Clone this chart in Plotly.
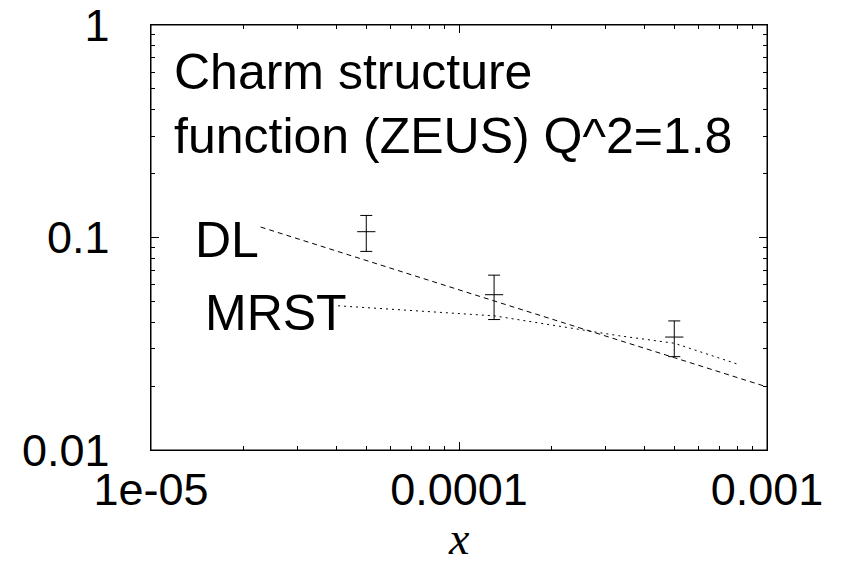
import plotly.graph_objects as go

# Data
data_x = [5.0e-5, 1.30e-4, 5.0e-4]
data_y = [0.1065, 0.0538, 0.0340]
data_err = [0.0205, 0.0127, 0.0065]

dl_x = [2.27e-5, 5.0e-5, 1.30e-4, 5.0e-4, 1.0e-3]
dl_y = [0.112, 0.0782, 0.0503, 0.0272, 0.0198]

mrst_x = [4.05e-5, 1.30e-4, 3.3e-4, 5.0e-4, 8.0e-4]
mrst_y = [0.0477, 0.0428, 0.0345, 0.0318, 0.0254]

x_tickvals = [1e-5, 1e-4, 1e-3]
x_ticktext = ["1e-05", "0.0001", "0.001"]
y_tickvals = [0.01, 0.1, 1]
y_ticktext = ["0.01", "0.1", "1"]
x_minor = [m * 10.0 ** e for e in (-5, -4) for m in range(2, 10)]
y_minor = [m * 10.0 ** e for e in (-2, -1) for m in range(2, 10)]

# page has an 8px body margin, so figure is 838x556 offset by 8px
OFF = 8
W, H = 846 - OFF, 564 - OFF
L, T = 151 - OFF, 25 - OFF
R = W - (767 - OFF)
B = H - (450 - OFF)
PW, PH = W - L - R, H - T - B

def px(x):
    return (x - OFF - L) / PW

def py(y):
    return (H - B - (y - OFF)) / PH

fig = go.Figure()
fig.add_trace(go.Scatter(x=dl_x, y=dl_y, mode="lines",
                         line=dict(color="black", width=1, dash="5px,4px"),
                         showlegend=False, hoverinfo="skip"))
fig.add_trace(go.Scatter(x=mrst_x, y=mrst_y, mode="lines",
                         line=dict(color="black", width=1, dash="2px,4px"),
                         showlegend=False, hoverinfo="skip"))
fig.add_trace(go.Scatter(x=data_x, y=data_y, mode="markers",
                         marker=dict(symbol="line-ew", size=13, color="black",
                                     line=dict(color="black", width=1)),
                         error_y=dict(type="data", array=data_err, visible=True,
                                      color="black", thickness=1, width=6),
                         showlegend=False))

font_main = "Liberation Sans, Arial, sans-serif"
ann = dict(xref="paper", yref="paper", showarrow=False, xanchor="left",
           yanchor="middle", font=dict(family=font_main, size=50, color="black"))
fig.add_annotation(text="Charm structure", x=px(172), y=py(72), **ann)
fig.add_annotation(text="function (ZEUS) Q^2=1.8", x=px(172), y=py(136), **ann)
fig.add_annotation(text="DL", x=px(193), y=py(240), **ann)
fig.add_annotation(text="MRST", x=px(203), y=py(313), **ann)
fig.add_annotation(text="x", x=px(459), y=py(538), xanchor="center", yanchor="middle",
                   xref="paper", yref="paper", showarrow=False,
                   font=dict(family="Liberation Serif, Times New Roman, serif",
                             size=46, color="black", style="italic"))

# plot frame
fig.add_shape(type="rect", xref="paper", yref="paper", x0=0, x1=1, y0=0, y1=1,
              line=dict(color="black", width=1), fillcolor="rgba(0,0,0,0)")

tick_common = dict(type="log", showgrid=False, zeroline=False,
                   showline=True, linecolor="black", linewidth=1, mirror="allticks",
                   ticks="inside", ticklen=8, tickcolor="black", tickwidth=1,
                   ticklabeloverflow="allow",
                   tickfont=dict(family=font_main, size=45, color="black"))
pad = "\u2002\u2009"

fig.update_layout(
    xaxis=dict(range=[-5, -3], tickmode="array", tickvals=x_tickvals, ticktext=x_ticktext,
               minor=dict(tickmode="array", tickvals=x_minor, ticks="inside", ticklen=4,
                          tickcolor="black", tickwidth=1, showgrid=False),
               **tick_common),
    yaxis=dict(range=[-2, 0], tickmode="array", tickvals=y_tickvals,
               ticktext=[t + pad for t in y_ticktext],
               minor=dict(tickmode="array", tickvals=y_minor, ticks="inside", ticklen=4,
                          tickcolor="black", tickwidth=1, showgrid=False),
               **tick_common),
    width=W, height=H, margin=dict(l=L, r=R, t=T, b=B, autoexpand=False),
    paper_bgcolor="white", plot_bgcolor="white")

fig.write_html("out.html", config={"displayModeBar": False})
